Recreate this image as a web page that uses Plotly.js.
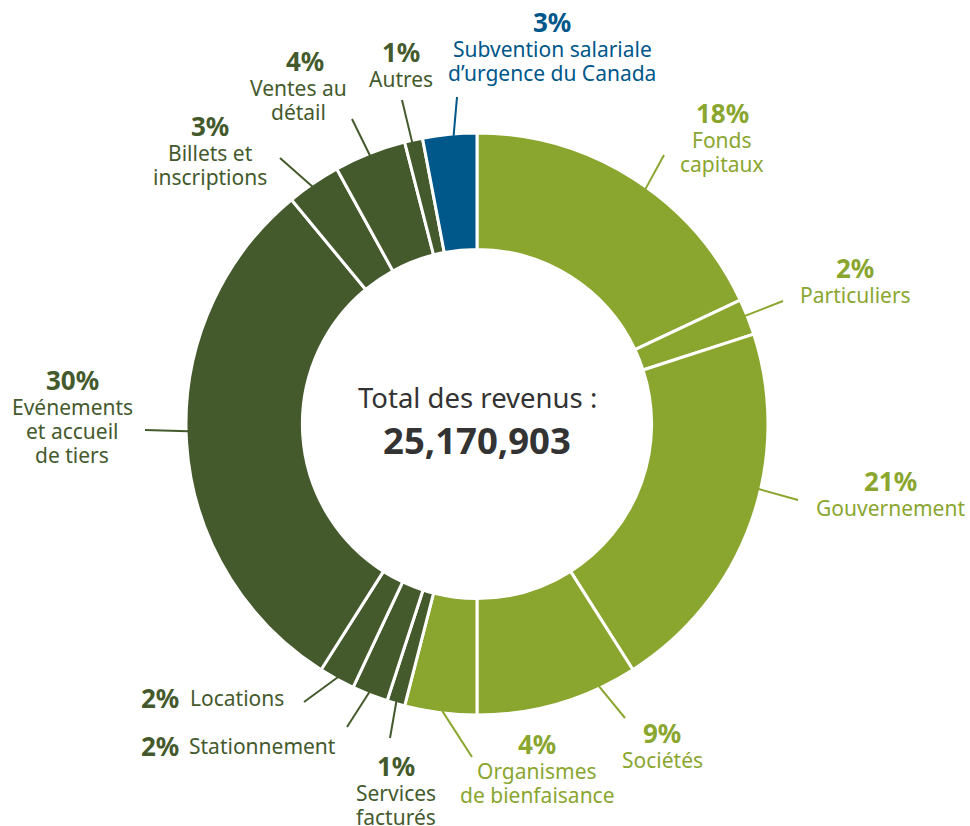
<!DOCTYPE html>
<html>
<head>
<meta charset="utf-8">
<script src="https://cdn.plot.ly/plotly-3.0.1.min.js"></script>
<style>html,body{margin:0;padding:0;background:#fff;}#chart{width:970px;height:826px;}</style>
</head>
<body>
<div id="chart"></div>
<script>
// ---- Data ----
const categories = [
  "Fonds capitaux", "Particuliers", "Gouvernement", "Sociétés",
  "Organismes de bienfaisance", "Services facturés", "Stationnement", "Locations",
  "Evénements et accueil de tiers", "Billets et inscriptions", "Ventes au détail",
  "Autres", "Subvention salariale d’urgence du Canada"
];
const percentages = [18, 2, 21, 9, 4, 1, 2, 2, 30, 3, 4, 1, 3];
const labelLines = [
  ["Fonds", "capitaux"], ["Particuliers"], ["Gouvernement"], ["Sociétés"],
  ["Organismes", "de bienfaisance"], ["Services", "facturés"], ["Stationnement"], ["Locations"],
  ["Evénements", "et accueil", "de tiers"], ["Billets et", "inscriptions"], ["Ventes au", "détail"],
  ["Autres"], ["Subvention salariale", "d’urgence du Canada"]
];
const groups = ["light","light","light","light","light","dark","dark","dark","dark","dark","dark","dark","blue"];
const centerTitle = "Total des revenus :";
const centerTotal = "25,170,903";

// ---- Styles / layout config ----
const palette = { light: "#8aa62f", dark: "#445a2d", blue: "#00578a" };
const W = 970, H = 826;
const cx = 477, cy = 424, R = 291;
const FONT = "Noto Sans, sans-serif";
const PCT_SIZE = 26, BODY_SIZE = 21, PCT_GAP = 27, LINE_GAP = 24;
// label placement: [pctX, pctY, bodyX, mode, leaderFraction, leaderEndX, leaderEndY]
// mode "stack": percent above centred lines; mode "inline": percent then text on one line (left aligned)
const placement = [
  [722, 113, 722, "stack", 0.55, 664, 155],
  [855, 268, 855, "stack", 0.45, 783, 301],
  [890, 481, 890, "stack", 0.41, 798, 500],
  [662, 733, 662, "stack", 0.23, 625, 718],
  [537, 744, 537, "stack", 0.48, 472, 757],
  [396, 766, 396, "stack", 0.5, 390, 738],
  [140, 746, 188, "inline", 0.54, 347, 727],
  [140, 698, 189, "inline", 0.5, 304, 702],
  [72, 380, 72, "stack", 0.52, 145, 430],
  [210, 126, 210, "stack", 0.45, 280, 158],
  [305, 61, 298, "stack", 0.49, 352, 119],
  [401, 52, 401, "stack", 0.4, 402, 100],
  [552, 22, 552, "stack", 0.57, 457, 97]
];

const px = x => x / W;
const py = y => 1 - y / H;
const total = percentages.reduce((a, b) => a + b, 0);

const annotations = [];
const shapes = [];
function addText(x, y, text, size, color, anchor) {
  annotations.push({
    xref: "paper", yref: "paper", x: px(x), y: py(y),
    xanchor: anchor, yanchor: "middle", showarrow: false, align: "center",
    text: text, borderpad: 0, font: { family: FONT, size: size, color: color }
  });
}
let cum = 0;
percentages.forEach((v, i) => {
  const col = palette[groups[i]];
  const p = placement[i];
  const ang = (cum + v * p[4]) / total * 2 * Math.PI;
  cum += v;
  const sx = cx + (R - 2) * Math.sin(ang);
  const sy = cy - (R - 2) * Math.cos(ang);
  shapes.push({
    type: "line", xref: "paper", yref: "paper",
    x0: px(sx), y0: py(sy), x1: px(p[5]), y1: py(p[6]),
    line: { color: col, width: 2 }
  });
  if (p[3] === "inline") {
    addText(p[0], p[1], "<b>" + v + "%</b>", PCT_SIZE, col, "left");
    addText(p[2], p[1], labelLines[i].join(" "), BODY_SIZE, col, "left");
  } else {
    addText(p[0], p[1], "<b>" + v + "%</b>", PCT_SIZE, col, "center");
    labelLines[i].forEach((s, k) => {
      addText(p[2], p[1] + PCT_GAP + k * LINE_GAP, s, BODY_SIZE, col, "center");
    });
  }
});

addText(cx, 397, centerTitle, 27.5, "#333333", "center");
addText(cx, 440, "<b>" + centerTotal + "</b>", 36.5, "#333333", "center");

const trace = {
  type: "pie",
  labels: categories,
  values: percentages,
  sort: false,
  direction: "clockwise",
  rotation: 0,
  hole: 0.6,
  textinfo: "none",
  hoverinfo: "label+percent",
  marker: { colors: groups.map(g => palette[g]), line: { color: "#ffffff", width: 3 } },
  domain: { x: [px(cx - R), px(cx + R)], y: [py(cy + R), py(cy - R)] },
  showlegend: false
};

Plotly.newPlot("chart", [trace], {
  width: W, height: H,
  margin: { l: 0, r: 0, t: 0, b: 0 },
  paper_bgcolor: "#ffffff",
  showlegend: false,
  annotations: annotations,
  shapes: shapes
}, { displayModeBar: false, staticPlot: true });
</script>
</body>
</html>
